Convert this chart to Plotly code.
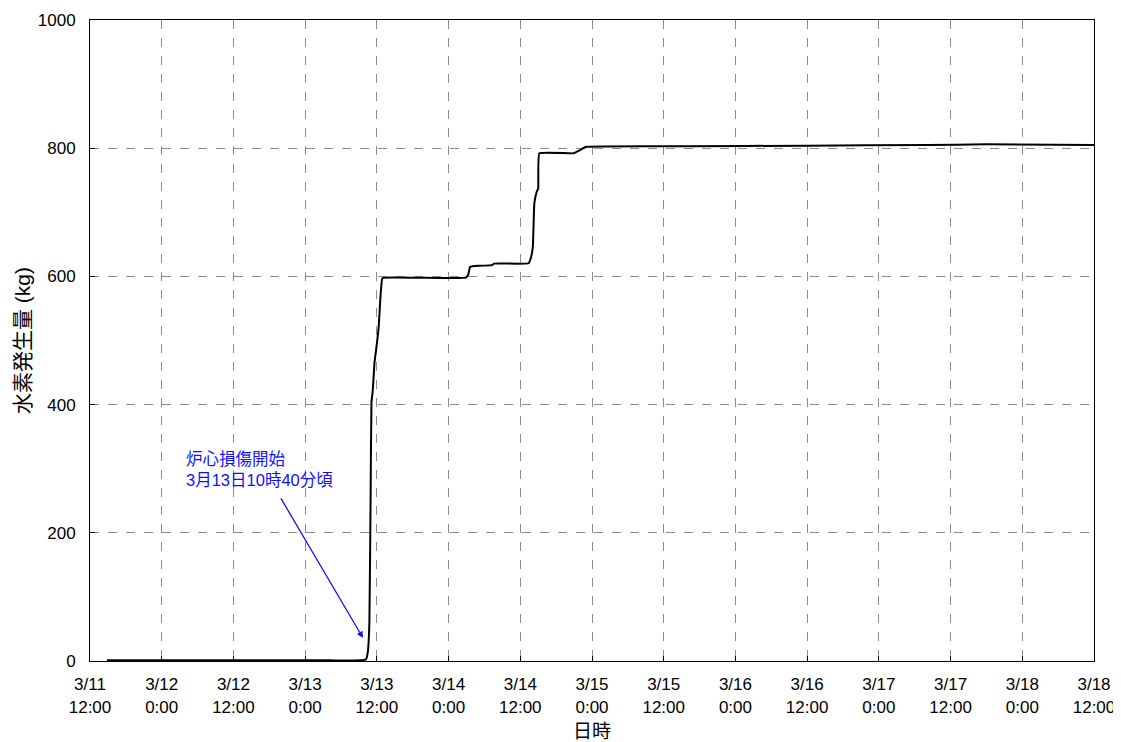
import plotly.graph_objects as go

times = [
    "2011-03-11 14:50", "2011-03-11 22:00", "2011-03-12 08:00", "2011-03-12 18:00",
    "2011-03-13 04:00", "2011-03-13 09:30", "2011-03-13 10:12", "2011-03-13 10:30",
    "2011-03-13 10:45", "2011-03-13 10:57", "2011-03-13 11:06", "2011-03-13 11:18",
    "2011-03-13 11:36", "2011-03-13 12:00", "2011-03-13 12:18", "2011-03-13 12:36",
    "2011-03-13 12:54", "2011-03-13 13:12", "2011-03-13 19:00", "2011-03-14 02:54",
    "2011-03-14 03:18", "2011-03-14 03:36", "2011-03-14 04:00", "2011-03-14 07:18",
    "2011-03-14 07:36", "2011-03-14 13:24", "2011-03-14 13:48", "2011-03-14 14:06",
    "2011-03-14 14:21", "2011-03-14 14:45", "2011-03-14 15:00", "2011-03-14 15:12",
    "2011-03-14 20:54", "2011-03-14 22:00", "2011-03-14 22:54", "2011-03-15 16:00",
    "2011-03-16 12:00", "2011-03-17 08:00", "2011-03-17 18:00", "2011-03-18 12:00",
]
hydrogen_kg = [
    1, 1, 1, 1,
    1, 1, 3, 15,
    60, 250, 405, 420,
    465, 495, 520, 568,
    597, 598, 598, 598,
    603, 615, 616, 617.5,
    620, 620.5, 630, 646,
    714, 732, 737, 792,
    792, 797, 802, 803,
    804, 805, 806, 805,
]

tick_vals = [
    "2011-03-11 12:00", "2011-03-12 00:00", "2011-03-12 12:00", "2011-03-13 00:00",
    "2011-03-13 12:00", "2011-03-14 00:00", "2011-03-14 12:00", "2011-03-15 00:00",
    "2011-03-15 12:00", "2011-03-16 00:00", "2011-03-16 12:00", "2011-03-17 00:00",
    "2011-03-17 12:00", "2011-03-18 00:00", "2011-03-18 12:00",
]
tick_text = [
    "3/11<br>12:00", "3/12<br>0:00", "3/12<br>12:00", "3/13<br>0:00",
    "3/13<br>12:00", "3/14<br>0:00", "3/14<br>12:00", "3/15<br>0:00",
    "3/15<br>12:00", "3/16<br>0:00", "3/16<br>12:00", "3/17<br>0:00",
    "3/17<br>12:00", "3/18<br>0:00", "3/18<br>12:00",
]
y_ticks = [0, 200, 400, 600, 800, 1000]

FONT = "Liberation Sans, Arial, Noto Sans CJK JP, sans-serif"

fig = go.Figure()
fig.add_trace(go.Scatter(
    x=times, y=hydrogen_kg, mode="lines",
    line=dict(color="black", width=2, shape="spline", smoothing=0.3),
    showlegend=False, hoverinfo="skip",
))

axis_common = dict(
    showline=True, linecolor="black", linewidth=1, mirror=True,
    showgrid=True, gridcolor="#8c8c8c", gridwidth=1, griddash="dash",
    zeroline=False, ticks="inside", ticklen=5, tickcolor="black", automargin=False,
    tickfont=dict(family=FONT, size=17, color="black"),
)

fig.update_xaxes(
    type="date",
    range=["2011-03-11 12:00", "2011-03-18 12:00"],
    tickmode="array", tickvals=tick_vals, ticktext=tick_text,
    ticklabelstandoff=8,
    title=dict(text="日時", font=dict(family=FONT, size=19, color="black"), standoff=10),
    **axis_common,
)
fig.update_yaxes(
    range=[0, 1000], tickmode="array", tickvals=y_ticks,
    ticklabelstandoff=10,
    title=dict(text="水素発生量 (kg)", font=dict(family=FONT, size=21, color="black"), standoff=1),
    **axis_common,
)

fig.add_annotation(
    x="2011-03-12 03:40", y=298, xref="x", yref="y",
    text="炉心損傷開始<br>3月13日10時40分頃",
    showarrow=False, xanchor="left", yanchor="middle", align="left",
    font=dict(family=FONT, size=16.5, color="#1010ff"),
)
fig.add_annotation(
    x="2011-03-13 09:41", y=36, xref="x", yref="y",
    ax="2011-03-12 19:48", ay=256, axref="x", ayref="y",
    text="", showarrow=True, arrowhead=2, arrowsize=1, arrowwidth=1.3,
    arrowcolor="#1010ff",
)

fig.update_layout(
    width=1113, height=734,
    margin=dict(l=82, r=27, t=12, b=81),
    plot_bgcolor="white", paper_bgcolor="white",
    font=dict(family=FONT, color="black"),
)

fig.write_html("out.html")
